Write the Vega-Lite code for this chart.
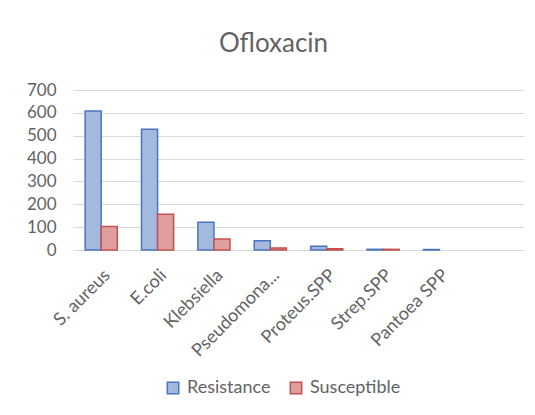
{
  "$schema": "https://vega.github.io/schema/vega-lite/v6.json",
  "width": 451,
  "height": 160,
  "autosize": {"type": "none"},
  "padding": {"left": 73, "top": 90, "right": 11, "bottom": 165},
  "background": "white",
  "title": {"text": "Ofloxacin", "fontSize": 26, "font": "Lato", "fontWeight": "normal", "color": "#636363", "anchor": "middle", "dx": -25, "offset": 24},
  "data": {"values": [
    {"organism": "S. aureus", "type": "Resistance", "count": 608},
    {"organism": "S. aureus", "type": "Susceptible", "count": 103},
    {"organism": "E.coli", "type": "Resistance", "count": 528},
    {"organism": "E.coli", "type": "Susceptible", "count": 156},
    {"organism": "Klebsiella", "type": "Resistance", "count": 121},
    {"organism": "Klebsiella", "type": "Susceptible", "count": 48},
    {"organism": "Pseudomona...", "type": "Resistance", "count": 40},
    {"organism": "Pseudomona...", "type": "Susceptible", "count": 9},
    {"organism": "Proteus.SPP", "type": "Resistance", "count": 16},
    {"organism": "Proteus.SPP", "type": "Susceptible", "count": 6},
    {"organism": "Strep.SPP", "type": "Resistance", "count": 3},
    {"organism": "Strep.SPP", "type": "Susceptible", "count": 3},
    {"organism": "Pantoea SPP", "type": "Resistance", "count": 2}
  ]},
  "mark": {"type": "bar", "strokeWidth": 1.5},
  "encoding": {
    "x": {"field": "organism", "type": "nominal", "sort": null,
      "scale": {"domain": ["S. aureus", "E.coli", "Klebsiella", "Pseudomona...", "Proteus.SPP", "Strep.SPP", "Pantoea SPP", " "], "paddingInner": 0.43, "paddingOuter": 0.215},
      "axis": {"title": null, "labelAngle": -45, "labelFont": "Lato", "labelFontSize": 18, "labelColor": "#636363", "ticks": false, "domainColor": "#d9d9d9", "domainWidth": 1, "labelPadding": 16, "labelLimit": 200}},
    "xOffset": {"field": "type", "type": "nominal", "scale": {"domain": ["Resistance", "Susceptible"]}},
    "y": {"field": "count", "type": "quantitative",
      "scale": {"domain": [0, 700], "nice": false},
      "axis": {"title": null, "values": [0, 100, 200, 300, 400, 500, 600, 700], "labelFont": "Lato", "labelFontSize": 17, "labelColor": "#636363", "ticks": false, "domain": false, "gridColor": "#d9d9d9", "gridWidth": 1, "labelPadding": 17}},
    "color": {"field": "type", "type": "nominal",
      "scale": {"domain": ["Resistance", "Susceptible"], "range": ["#a3b9dd", "#de9f9e"]},
      "legend": {"title": null, "orient": "none", "legendX": 91, "legendY": 289, "direction": "horizontal", "symbolType": "square", "symbolSize": 130, "symbolStrokeWidth": 1.5, "labelFont": "Lato", "labelFontSize": 18, "labelColor": "#636363", "columnPadding": 16, "labelOffset": 5, "symbolOpacity": 1}},
    "stroke": {"field": "type", "type": "nominal",
      "scale": {"domain": ["Resistance", "Susceptible"], "range": ["#4a76c0", "#c4514f"]},
      "legend": null}
  },
  "config": {"view": {"stroke": null}}
}
